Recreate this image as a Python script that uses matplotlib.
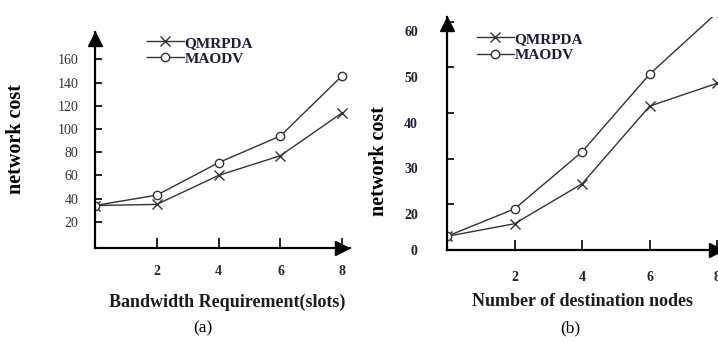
import numpy as np
import matplotlib
matplotlib.use("Agg")
import matplotlib.pyplot as plt
from matplotlib.transforms import offset_copy

plt.rcParams['font.family'] = ['Liberation Serif', 'DejaVu Serif']

# panel (a): network cost vs bandwidth requirement
bandwidth = [0, 2, 4, 6, 8]
qmrpda_a = [34, 35, 60, 77, 114]
maodv_a = [34, 43, 71, 94, 146]
yticks_a = [20, 40, 60, 80, 100, 120, 140, 160]

# panel (b): network cost vs number of destination nodes
dest_nodes = [0, 2, 4, 6, 8]
qmrpda_b = [6, 11.5, 24.5, 41.5, 46.5]
maodv_b = [6, 18, 31.5, 48.5, 62]
yticks_b = [0, 20, 30, 40, 50, 60]
xticks = [2, 4, 6, 8]

line_col = '#333333'
W, H = 718, 342


def fwd(y):
    # the original axis squeezes 0..20 into one step
    y = np.asarray(y, dtype=float)
    return np.where(y <= 20, y / 2.0, y - 10.0)


def inv(t):
    t = np.asarray(t, dtype=float)
    return np.where(t <= 10, t * 2.0, t + 10.0)


def style_axes(ax, fig):
    for s in ['top', 'right']:
        ax.spines[s].set_visible(False)
    for s in ['left', 'bottom']:
        ax.spines[s].set_linewidth(1.6)
    # arrow heads on the axes
    up = offset_copy(ax.transAxes, fig=fig, x=0, y=-5, units='points')
    ax.plot([0], [1], marker='^', ms=10, color='k', transform=up, clip_on=False)
    right = offset_copy(ax.transAxes, fig=fig, x=-6, y=0, units='points')
    ax.plot([1], [0], marker='>', ms=10, color='k', transform=right, clip_on=False)


def draw_lines(ax, x, q, m):
    ax.plot(x, q, color=line_col, lw=1.0, marker='x', ms=7, mew=1.0, label='QMRPDA')
    ax.plot(x, m, color=line_col, lw=1.0, marker='o', ms=6, mfc='white', mew=1.0,
            label='MAODV')


fig = plt.figure(figsize=(7.18, 3.42), dpi=100)

# ---- panel (a) ----
ax1 = fig.add_axes([95 / W, (H - 248) / H, (350 - 95) / W, (248 - 32) / H])
draw_lines(ax1, bandwidth, qmrpda_a, maodv_a)
ax1.set_xlim(0, 8.25)
ax1.set_ylim(-2.6, 183.6)
ax1.set_yticks(yticks_a)
ax1.set_xticks(xticks)
ax1.tick_params(axis='y', direction='in', length=5, width=1.2, pad=12,
                labelsize=10, labelcolor='#3a3030')
ax1.tick_params(axis='x', direction='in', length=7, width=1.2, pad=12,
                labelsize=10, labelcolor='#2a2a2a')
for t in ax1.get_xticklabels():
    t.set_fontweight('bold')
style_axes(ax1, fig)
ax1.legend(loc='upper left', bbox_to_anchor=(147 / W, 1 - 36 / H),
           bbox_transform=fig.transFigure, frameon=False, handlelength=2.4,
           handletextpad=0.05, labelspacing=0.15, borderpad=0, borderaxespad=0,
           prop={'family': 'Liberation Serif', 'weight': 'bold', 'size': 11},
           labelcolor='#1c1c3c')
fig.text(16 / W, 1 - 139 / H, 'network cost', rotation=90, ha='center', va='center',
         fontsize=14.5, fontweight='bold')
fig.text(227 / W, 1 - 302 / H, 'Bandwidth Requirement(slots)', ha='center', va='center',
         fontsize=13, fontweight='bold', color='#1c1c1c')
fig.text(203 / W, 1 - 328 / H, '(a)', ha='center', va='center', fontsize=12.5)

# ---- panel (b) ----
ax2 = fig.add_axes([447 / W, (H - 250) / H, (724 - 447) / W, (250 - 17) / H])
ax2.set_yscale('function', functions=(fwd, inv))
draw_lines(ax2, dest_nodes, qmrpda_b, maodv_b)
ax2.set_xlim(0, 8.2)
ax2.set_ylim(0, 61)
ax2.set_yticks(yticks_b)
ax2.set_yticklabels([str(v) for v in yticks_b])
ax2.set_xticks(xticks)
ax2.tick_params(axis='y', direction='in', length=5, width=1.2, pad=21,
                labelsize=10, labelcolor='#20203a')
ax2.tick_params(axis='x', direction='in', length=7, width=1.2, pad=15,
                labelsize=10, labelcolor='#20203a')
for t in ax2.get_xticklabels():
    t.set_fontweight('bold')
for t in ax2.get_yticklabels():
    t.set_fontweight('bold')
    if t.get_text() != '0':
        t.set_transform(offset_copy(t.get_transform(), fig=fig, x=0, y=-7, units='points'))
style_axes(ax2, fig)
ax2.legend(loc='upper left', bbox_to_anchor=(477 / W, 1 - 32 / H),
           bbox_transform=fig.transFigure, frameon=False, handlelength=2.4,
           handletextpad=0.05, labelspacing=0.2, borderpad=0, borderaxespad=0,
           prop={'family': 'Liberation Serif', 'weight': 'bold', 'size': 11},
           labelcolor='#1c1c3c')
fig.text(379 / W, 1 - 161 / H, 'network cost', rotation=90, ha='center', va='center',
         fontsize=14.5, fontweight='bold')
fig.text(582 / W, 1 - 302 / H, 'Number of destination nodes', ha='center', va='center',
         fontsize=13, fontweight='bold', color='#1c1c1c')
fig.text(570 / W, 1 - 328 / H, '(b)', ha='center', va='center', fontsize=12.5)

fig.savefig('out.png', dpi=100)
